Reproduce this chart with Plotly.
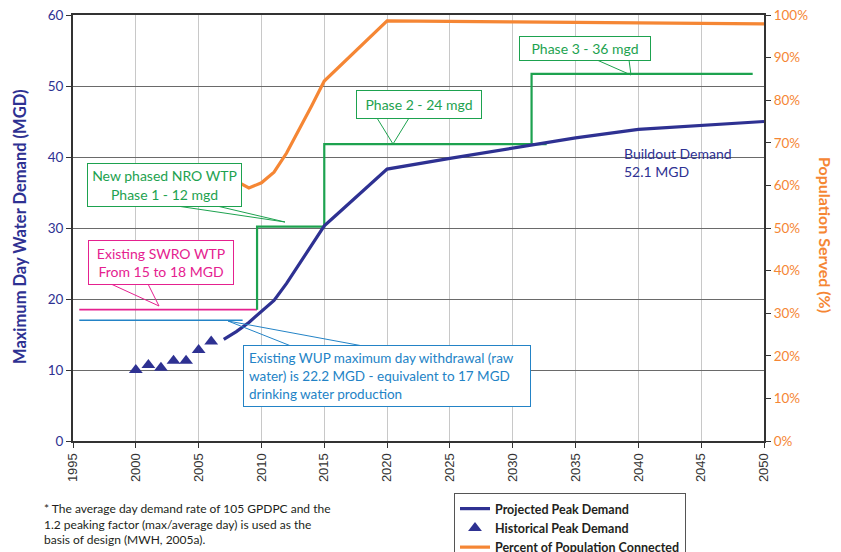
import plotly.graph_objects as go

# ---------------- data ----------------
years_hist = [2000, 2001, 2002, 2003, 2004, 2005, 2006]
demand_hist = [10.0, 10.7, 10.3, 11.3, 11.3, 12.8, 14.0]

years_proj = [2007, 2008, 2009, 2010, 2011, 2012, 2013, 2014, 2015, 2016, 2017, 2018,
              2019, 2020, 2025, 2030, 2035, 2040, 2045, 2050]
demand_proj = [14.3, 15.4, 16.7, 18.2, 19.8, 22.2, 24.9, 27.6, 30.3, 31.9, 33.5, 35.1,
               36.7, 38.3, 39.8, 41.3, 42.7, 43.9, 44.5, 45.0]

years_pop = [2008, 2009, 2010, 2011, 2012, 2013, 2014, 2015, 2020, 2030, 2040, 2050]
pop_pct = [61.0, 59.4, 60.6, 63.1, 67.6, 73.0, 78.7, 84.5, 98.6, 98.4, 98.2, 97.9]

nro_x = [2009.65, 2009.65, 2015, 2015, 2032.7, None, 2031.5, 2031.5, 2049.1]
nro_y = [18.5, 30.2, 30.2, 41.8, 41.8, None, 41.8, 51.7, 51.7]

swro_x = [1995.5, 2009.65]
swro_y = [18.5, 18.5]

wup_x = [1995.5, 2008.5]
wup_y = [17.0, 17.0]

x_ticks = [1995, 2000, 2005, 2010, 2015, 2020, 2025, 2030, 2035, 2040, 2045, 2050]

# ---------------- style ----------------
FONT = "Lato"
NAVY = "#2E3192"
ORANGE = "#F58634"
GREEN = "#1DA24F"
PINK = "#E5218F"
BLUE = "#2383C6"

PAGE_MARGIN = 8          # default body margin of the html page
W_FIG, H_FIG = 841 - PAGE_MARGIN, 552 - PAGE_MARGIN
L, R, T, B = 73, 764, 15, 441   # plot area in screen pixels
PW, PH = R - L, B - T


def px(xp):
    return (xp - L) / PW


def py(yp):
    return (B - yp) / PH


fig = go.Figure()

fig.add_trace(go.Scatter(x=swro_x, y=swro_y, mode="lines",
                         line=dict(color=PINK, width=1.6), showlegend=False, hoverinfo="skip"))
fig.add_trace(go.Scatter(x=wup_x, y=wup_y, mode="lines",
                         line=dict(color=BLUE, width=1.6), showlegend=False, hoverinfo="skip"))
fig.add_trace(go.Scatter(x=nro_x, y=nro_y, mode="lines",
                         line=dict(color=GREEN, width=2.2), showlegend=False, hoverinfo="skip"))
fig.add_trace(go.Scatter(x=years_proj, y=demand_proj, mode="lines", name="Projected Peak Demand",
                         line=dict(color=NAVY, width=3.2)))
fig.add_trace(go.Scatter(x=years_hist, y=demand_hist, mode="markers", name="Historical Peak Demand",
                         marker=dict(symbol="triangle-up", size=12, color=NAVY)))
fig.add_trace(go.Scatter(x=years_pop, y=pop_pct, mode="lines", name="Percent of Population Connected",
                         line=dict(color=ORANGE, width=3.2), yaxis="y2"))


def box(text, left, top, right, bottom, color, align="center", size=14, pad=0):
    return dict(text=text, xref="paper", yref="paper", x=px(left), y=py(top),
                xanchor="left", yanchor="top", showarrow=False,
                width=right - left - 2 - 2 * pad, height=bottom - top - 2 - 2 * pad,
                borderpad=pad, bordercolor=color, borderwidth=1, bgcolor="white",
                font=dict(family=FONT, size=size, color=color), align=align, valign="middle")


def wedge(a, b, tip, color):
    path = "M {} {} L {} {} L {} {}".format(px(a[0]), py(a[1]), px(tip[0]), py(tip[1]),
                                          px(b[0]), py(b[1]))
    return dict(type="path", xref="paper", yref="paper", path=path, layer="above",
                line=dict(color=color, width=1), fillcolor="rgba(0,0,0,0)")


annotations = [
    box("New phased NRO WTP<br>Phase 1 - 12 mgd", 87, 163, 242, 207, GREEN),
    box("Existing SWRO WTP<br>From 15 to 18 MGD", 88, 240, 234, 285, PINK),
    box("Existing WUP maximum day withdrawal (raw<br>water) is 22.2 MGD - equivalent to 17 MGD"
        "<br>drinking water production", 243, 345, 531, 407, BLUE, align="left", size=13.5, pad=5),
    box("Phase 2 - 24 mgd", 356, 90, 482, 119, GREEN),
    box("Phase 3 - 36 mgd", 519, 36, 651, 61, GREEN),
    dict(text="Buildout Demand<br>52.1 MGD", xref="paper", yref="paper", x=px(622), y=py(143),
         xanchor="left", yanchor="top", showarrow=False, align="left",
         font=dict(family=FONT, size=14, color=NAVY)),
    dict(text="Maximum Day Water Demand (MGD)", xref="paper", yref="paper", x=px(20), y=py(227),
         xanchor="center", yanchor="middle", showarrow=False, textangle=-90,
         font=dict(family=FONT, size=16.5, color=NAVY, weight="bold")),
    dict(text="Population Served (%)", xref="paper", yref="paper", x=px(826), y=py(235),
         xanchor="center", yanchor="middle", showarrow=False, textangle=90,
         font=dict(family=FONT, size=16, color=ORANGE, weight="bold")),
    dict(text="* The average day demand rate of 105 GPDPC and the<br>1.2 peaking factor (max/average day) is used as the"
         "<br>basis of design (MWH, 2005a).", xref="paper", yref="paper", x=px(42), y=py(499),
         xanchor="left", yanchor="top", showarrow=False, align="left",
         font=dict(family=FONT, size=12, color="#231F20")),
]

shapes = [
    wedge((177, 206), (217, 206), (285, 222), GREEN),
    wedge((111, 284), (148, 284), (159, 306), PINK),
    wedge((291, 346), (363, 346), (228, 321), BLUE),
    wedge((377, 118), (409, 118), (393, 144), GREEN),
    wedge((597, 60), (629, 60), (631, 75), GREEN),
]

fig.update_layout(
    width=W_FIG, height=H_FIG,
    margin=dict(l=L - PAGE_MARGIN, r=841 - R, t=T - PAGE_MARGIN, b=552 - B, pad=0, autoexpand=False),
    paper_bgcolor="white", plot_bgcolor="white",
    font=dict(family=FONT, color="#231F20"),
    xaxis=dict(range=[1995, 2050], tickvals=x_ticks, ticktext=[str(v) for v in x_ticks],
               tickangle=-90, showgrid=True, gridcolor="#C8C8C8", gridwidth=1,
               showline=True, linecolor="#333333", linewidth=2, zeroline=False, mirror=True,
               ticks="outside", ticklen=5, tickcolor="#333333", automargin=False,
               ticklabeloverflow="allow",
               tickfont=dict(family="Liberation Sans", size=13, color="#333333")),
    yaxis=dict(range=[0, 60], dtick=10, showgrid=True, gridcolor="#6A6A6A", gridwidth=1,
               showline=True, linecolor="#333333", linewidth=2, zeroline=False,
               ticks="outside", ticklen=5, tickcolor="#333333", automargin=False,
               ticklabeloverflow="allow",
               tickfont=dict(family=FONT, size=13.5, color=NAVY)),
    yaxis2=dict(range=[0, 100], dtick=10, ticksuffix="%", overlaying="y", side="right",
                showgrid=False, showline=True, linecolor="#333333", linewidth=2, zeroline=False,
                ticks="outside", ticklen=5, tickcolor="#333333", automargin=False,
                ticklabeloverflow="allow",
                tickfont=dict(family=FONT, size=13.5, color=ORANGE)),
    legend=dict(x=px(454), y=py(493), xanchor="left", yanchor="top",
                bordercolor="#555555", borderwidth=1, bgcolor="white",
                font=dict(family=FONT, size=12.5, color="#231F20", weight="bold"),
                traceorder="normal", tracegroupgap=0),
    annotations=annotations,
    shapes=shapes,
    showlegend=True,
)

fig.write_html("out.html")
